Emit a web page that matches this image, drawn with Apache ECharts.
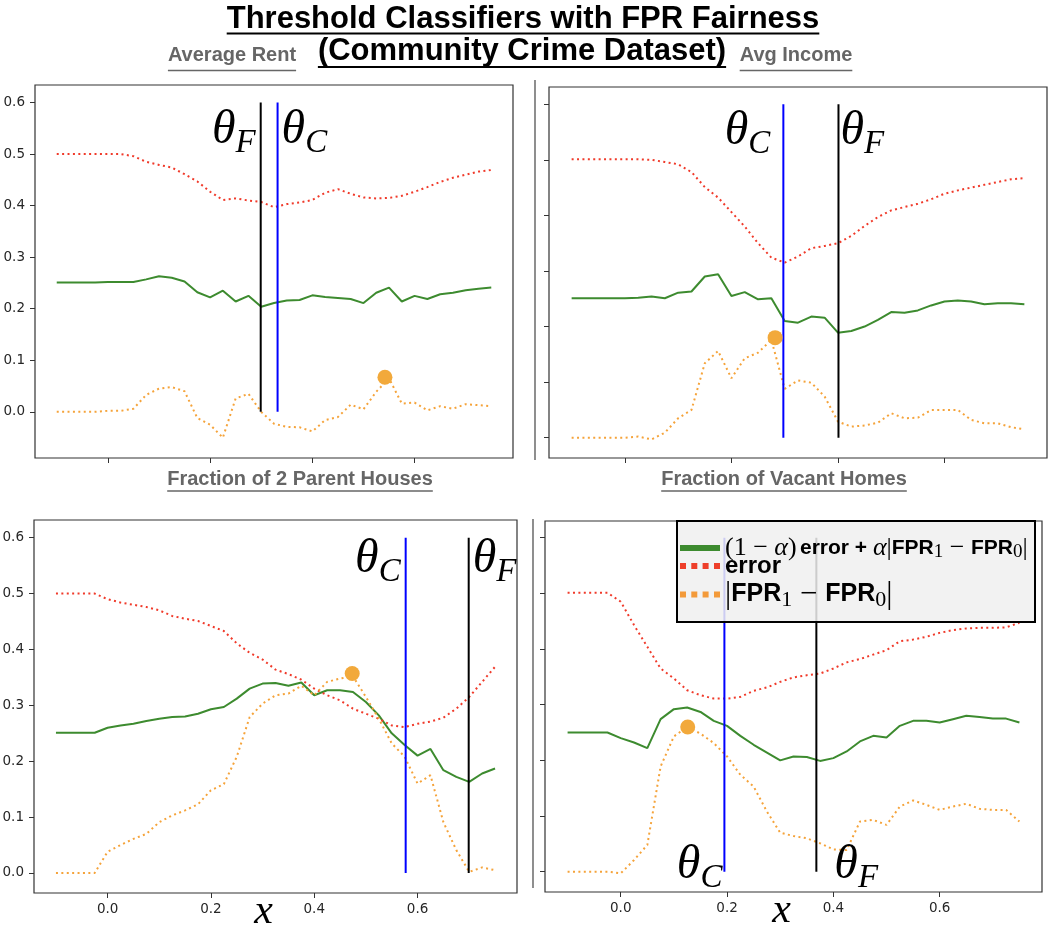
<!DOCTYPE html>
<html>
<head>
<meta charset="utf-8">
<script src="https://cdn.jsdelivr.net/npm/echarts@6/dist/echarts.min.js"></script>
<style>
  html, body { margin: 0; padding: 0; background: #fff; }
  #chart { width: 1054px; height: 928px; }
</style>
</head>
<body>
<div id="chart"></div>
<script>
// threshold grid shared by all four panels
const thresholds = [-0.1, -0.075, -0.05, -0.025, 0, 0.025, 0.05, 0.075, 0.1, 0.125, 0.15, 0.175,
  0.2, 0.225, 0.25, 0.275, 0.3, 0.325, 0.35, 0.375, 0.4, 0.425, 0.45, 0.475, 0.5, 0.525, 0.55,
  0.575, 0.6, 0.625, 0.65, 0.675, 0.7, 0.725, 0.75];
const yTicks = [0, 0.1, 0.2, 0.3, 0.4, 0.5, 0.6];
const xTicks = [0, 0.2, 0.4, 0.6];

// Average Rent
const rentError = [0.500, 0.500, 0.500, 0.500, 0.500, 0.500, 0.496, 0.485, 0.479, 0.474, 0.461, 0.447,
  0.427, 0.411, 0.414, 0.410, 0.407, 0.397, 0.403, 0.406, 0.411, 0.425, 0.432, 0.423, 0.416, 0.414,
  0.415, 0.419, 0.427, 0.436, 0.446, 0.454, 0.460, 0.466, 0.469];
const rentObjective = [0.251, 0.251, 0.251, 0.251, 0.252, 0.252, 0.252, 0.257, 0.263, 0.260, 0.253, 0.232,
  0.222, 0.235, 0.214, 0.225, 0.204, 0.211, 0.216, 0.217, 0.226, 0.223, 0.221, 0.219, 0.211, 0.231,
  0.241, 0.214, 0.225, 0.219, 0.228, 0.231, 0.236, 0.239, 0.241];
const rentGap = [0, 0, 0, 0, 0.002, 0.002, 0.006, 0.033, 0.045, 0.048, 0.040, -0.012,
  -0.025, -0.050, 0.026, 0.035, 0.000, -0.023, -0.029, -0.030, -0.038, -0.016, -0.010, 0.014, 0.005, 0.039,
  0.065, 0.016, 0.018, 0.003, 0.011, 0.006, 0.015, 0.013, 0.011];
const rentDot = [0.542, 0.067];
const rentThetaC = 0.332;
const rentThetaF = 0.299;

// Avg Income
const incomeError = [0.501, 0.501, 0.501, 0.501, 0.501, 0.501, 0.500, 0.496, 0.492, 0.478, 0.451, 0.432,
  0.406, 0.380, 0.350, 0.324, 0.315, 0.326, 0.341, 0.345, 0.350, 0.363, 0.381, 0.397, 0.409, 0.415,
  0.421, 0.429, 0.439, 0.445, 0.450, 0.455, 0.460, 0.465, 0.467];
const incomeObjective = [0.251, 0.251, 0.251, 0.251, 0.251, 0.252, 0.254, 0.251, 0.261, 0.263, 0.290, 0.294,
  0.255, 0.262, 0.249, 0.251, 0.210, 0.207, 0.218, 0.216, 0.189, 0.192, 0.200, 0.212, 0.226, 0.225,
  0.229, 0.238, 0.245, 0.247, 0.245, 0.240, 0.242, 0.242, 0.240];
const incomeGap = [0, 0, 0, 0, 0, 0.002, -0.003, 0.009, 0.035, 0.050, 0.134, 0.156,
  0.107, 0.143, 0.153, 0.176, 0.088, 0.103, 0.099, 0.074, 0.029, 0.020, 0.022, 0.027, 0.044, 0.035,
  0.036, 0.050, 0.050, 0.050, 0.032, 0.026, 0.026, 0.019, 0.015];
const incomeDot = [0.282, 0.180];
const incomeThetaC = 0.2975;
const incomeThetaF = 0.401;

// Fraction of 2 Parent Houses
const parentError = [0.500, 0.500, 0.500, 0.500, 0.490, 0.484, 0.480, 0.476, 0.470, 0.460, 0.455, 0.451,
  0.442, 0.433, 0.411, 0.394, 0.382, 0.364, 0.356, 0.346, 0.330, 0.318, 0.309, 0.294, 0.285, 0.276,
  0.264, 0.261, 0.267, 0.271, 0.278, 0.294, 0.315, 0.342, 0.369];
const parentObjective = [0.251, 0.251, 0.251, 0.251, 0.260, 0.264, 0.267, 0.272, 0.276, 0.279, 0.280, 0.285,
  0.293, 0.297, 0.312, 0.330, 0.339, 0.340, 0.335, 0.341, 0.318, 0.327, 0.327, 0.324, 0.306, 0.282,
  0.250, 0.229, 0.210, 0.222, 0.184, 0.172, 0.163, 0.178, 0.187];
const parentGap = [0, 0, 0, 0, 0.038, 0.050, 0.061, 0.070, 0.091, 0.103, 0.112, 0.123,
  0.148, 0.159, 0.208, 0.279, 0.303, 0.318, 0.321, 0.335, 0.318, 0.342, 0.348, 0.352, 0.315, 0.276,
  0.232, 0.208, 0.160, 0.175, 0.091, 0.041, 0.002, 0.010, 0.005];
const parentDot = [0.4735, 0.357];
const parentThetaC = 0.577;
const parentThetaF = 0.699;

// Fraction of Vacant Homes
const vacantError = [0.501, 0.501, 0.501, 0.501, 0.485, 0.443, 0.404, 0.365, 0.347, 0.326, 0.317, 0.311,
  0.311, 0.314, 0.325, 0.331, 0.341, 0.349, 0.353, 0.356, 0.365, 0.376, 0.382, 0.390, 0.398, 0.414,
  0.417, 0.422, 0.429, 0.434, 0.437, 0.438, 0.438, 0.439, 0.447];
const vacantObjective = [0.250, 0.250, 0.250, 0.250, 0.240, 0.232, 0.222, 0.274, 0.292, 0.295, 0.287, 0.271,
  0.262, 0.244, 0.228, 0.214, 0.200, 0.207, 0.206, 0.199, 0.204, 0.216, 0.234, 0.244, 0.241, 0.262,
  0.271, 0.271, 0.268, 0.274, 0.280, 0.278, 0.275, 0.275, 0.268];
const vacantGap = [0, 0, 0, 0, -0.003, 0.021, 0.048, 0.189, 0.243, 0.260, 0.248, 0.231,
  0.207, 0.174, 0.153, 0.108, 0.070, 0.064, 0.060, 0.051, 0.040, 0.039, 0.090, 0.093, 0.084, 0.117,
  0.128, 0.120, 0.111, 0.117, 0.122, 0.113, 0.111, 0.111, 0.090];
const vacantDot = [0.126, 0.260];
const vacantThetaC = 0.195;
const vacantThetaF = 0.368;

const OBJ = 'objective';
const ERR = 'error';
const GAP = 'gap';
const GREEN = '#3d8b2f';
const RED = '#f03a2a';
const ORANGE = '#f5a33a';

const panels = [
  { err: rentError, obj: rentObjective, gap: rentGap, dot: rentDot, thetaC: rentThetaC, thetaF: rentThetaF,
    box: { left: 35, top: 85, width: 478, height: 373 }, yRange: [-0.0895, 0.634], yLabels: true, xLabels: false,
    cLab: { at: 0.6, side: 'right', dist: 4, dy: 28 }, fLab: { at: 0.6, side: 'left', dist: 5, dy: 28 } },
  { err: incomeError, obj: incomeObjective, gap: incomeGap, dot: incomeDot, thetaC: incomeThetaC, thetaF: incomeThetaF,
    box: { left: 549, top: 87, width: 498, height: 371 }, yRange: [-0.0365, 0.631], yLabels: false, xLabels: false,
    cLab: { at: 0.6, side: 'left', dist: 13, dy: 27 }, fLab: { at: 0.6, side: 'right', dist: 2, dy: 27 } },
  { err: parentError, obj: parentObjective, gap: parentGap, dot: parentDot, thetaC: parentThetaC, thetaF: parentThetaF,
    box: { left: 34, top: 520, width: 483, height: 373 }, yRange: [-0.0358, 0.6317], yLabels: true, xLabels: true,
    cLab: { at: 0.6, side: 'left', dist: 5, dy: 22 }, fLab: { at: 0.6, side: 'right', dist: 4, dy: 22 } },
  { err: vacantError, obj: vacantObjective, gap: vacantGap, dot: vacantDot, thetaC: vacantThetaC, thetaF: vacantThetaF,
    box: { left: 545, top: 521, width: 497, height: 371 }, yRange: [-0.0365, 0.630], yLabels: false, xLabels: true,
    cLab: { at: 0, side: 'left', dist: 2, dy: -6 }, fLab: { at: 0, side: 'right', dist: 18, dy: -6 } }
];

const thetaRich = {
  t: { fontFamily: 'Liberation Serif', fontStyle: 'italic', fontSize: 48, color: '#000' },
  s: { fontFamily: 'Liberation Serif', fontStyle: 'italic', fontSize: 33, color: '#000', padding: [26, 0, 0, 0] }
};

function thetaSeries(i, x, color, sub, lab) {
  return {
    type: 'line', xAxisIndex: i, yAxisIndex: i, z: 3, silent: true,
    symbol: 'circle', symbolSize: 0, showSymbol: true,
    itemStyle: { color: 'rgba(0,0,0,0)' },
    lineStyle: { color: color, width: 2 },
    data: [0, 0.6].map(v => v !== lab.at ? { value: [x, v] } : {
      value: [x, v],
      label: { show: true, position: lab.side, distance: lab.dist, offset: [0, lab.dy],
        formatter: '{t|θ}{s|' + sub + '}', rich: thetaRich }
    })
  };
}

const grid = [], xAxis = [], yAxis = [], series = [];
const tickFont = { fontFamily: 'DejaVu Sans', fontSize: 13.5, color: '#262626' };

panels.forEach((p, i) => {
  grid.push(Object.assign({ show: true, borderColor: '#333', borderWidth: 1.2, backgroundColor: 'transparent',
    outerBoundsMode: 'none', containLabel: false }, p.box));
  xAxis.push({
    type: 'value', gridIndex: i, min: -0.1425, max: 0.7925,
    splitLine: { show: false }, axisLine: { show: false, onZero: false },
    axisTick: { show: true, length: 5, customValues: xTicks, lineStyle: { color: '#333' } },
    axisLabel: Object.assign({ show: p.xLabels, customValues: xTicks, margin: 9,
      formatter: v => v.toFixed(1) }, tickFont),
    name: p.xLabels ? 'x' : '', nameLocation: 'middle', nameGap: -2, nameMoveOverlap: false,
    nameTextStyle: { fontFamily: 'Liberation Serif', fontStyle: 'italic', fontSize: 42, color: '#000', padding: [0, 24, 0, 0] }
  });
  yAxis.push({
    type: 'value', gridIndex: i, min: p.yRange[0], max: p.yRange[1],
    splitLine: { show: false }, axisLine: { show: false, onZero: false },
    axisTick: { show: true, length: 5, customValues: yTicks, lineStyle: { color: '#333' } },
    axisLabel: Object.assign({ show: p.yLabels, customValues: yTicks, margin: 10,
      formatter: v => v.toFixed(1) }, tickFont)
  });
  const curve = (name, arr, color, type) => ({
    type: 'line', name: name, xAxisIndex: i, yAxisIndex: i, z: 2,
    symbol: 'none', showSymbol: false, silent: true,
    itemStyle: { color: color },
    lineStyle: { color: color, width: 2, type: type },
    data: thresholds.map((x, k) => [x, arr[k]])
  });
  series.push(curve(OBJ, p.obj, GREEN, 'solid'));
  series.push(curve(ERR, p.err, RED, [2, 3.4]));
  series.push(curve(GAP, p.gap, ORANGE, [2, 3.4]));
  series.push(thetaSeries(i, p.thetaC, '#0000ff', 'C', p.cLab));
  series.push(thetaSeries(i, p.thetaF, '#000000', 'F', p.fLab));
  series.push({
    type: 'scatter', xAxisIndex: i, yAxisIndex: i, z: 4, silent: true,
    symbolSize: 15, itemStyle: { color: '#f2a93b', opacity: 1 },
    data: [p.dot]
  });
});

// legend: one entry per component so each row sits where the reference has it
const ICON_SOLID = 'path://M0,0H40V6H0Z';
const ICON_DOTS = 'path://M0,0h6v6h-6zM11.3,0h6v6h-6zM22.6,0h6v6h-6zM34,0h6v6h-6z';
const serif = (size, extra) => Object.assign({ fontFamily: 'Liberation Serif', fontSize: size, color: '#000' }, extra);
const sans = (size, extra) => Object.assign({ fontFamily: 'Liberation Sans', fontWeight: 'bold', fontSize: size, color: '#000' }, extra);
const legendRows = [
  { name: OBJ, icon: ICON_SOLID, color: GREEN, top: 534,
    text: '{m|(1 − }{mi|α}{m|)} {b|error + }{mi|α}{m||}{b|FPR}{sub|1}{m| − }{b|FPR}{sub|0}{m||}',
    rich: { m: serif(26, { lineHeight: 26 }), mi: serif(26, { fontStyle: 'italic', lineHeight: 26 }),
      b: sans(21, { lineHeight: 26 }), sub: serif(19, { lineHeight: 26, padding: [9, 0, 0, 0] }) } },
  { name: ERR, icon: ICON_DOTS, color: '#ee3f2a', top: 554,
    text: '{eb|error}', rich: { eb: sans(24, { lineHeight: 26 }) } },
  { name: GAP, icon: ICON_DOTS, color: '#f39a3a', top: 578,
    text: '{m|}{m||}{b|FPR}{sub|1}{m| − }{b|FPR}{sub|0}{m||}',
    rich: { m: serif(31, { lineHeight: 30 }), b: sans(25, { lineHeight: 30 }),
      sub: serif(22, { lineHeight: 30, padding: [11, 0, 0, 0] }) } }
];
const legend = legendRows.map(r => ({
  data: [{ name: r.name, icon: r.icon, itemStyle: { color: r.color, borderWidth: 0 } }],
  orient: 'vertical', left: 680, top: r.top, z: 10, padding: 0,
  itemWidth: 40, itemHeight: 6, selectedMode: false,
  formatter: () => r.text,
  textStyle: { color: '#000', rich: r.rich }
}));

// headings: text + measured underline
function textWidth(str, font) {
  const c = document.createElement('canvas').getContext('2d');
  c.font = font;
  return c.measureText(str).width;
}
const headings = [
  { text: 'Threshold Classifiers with FPR Fairness', cx: 523, cy: 19, size: 31, color: '#000', uy: 33.5, uw: 2 },
  { text: '(Community Crime Dataset)', cx: 522, cy: 51, size: 31, color: '#000', uy: 67, uw: 2 },
  { text: 'Average Rent', cx: 232, cy: 55.5, size: 20, color: '#666', uy: 70.5, uw: 1.5 },
  { text: 'Avg Income', cx: 796, cy: 55.5, size: 20, color: '#666', uy: 70.5, uw: 1.5 },
  { text: 'Fraction of 2 Parent Houses', cx: 300, cy: 479, size: 20, color: '#666', uy: 491, uw: 1.5 },
  { text: 'Fraction of Vacant Homes', cx: 784, cy: 479, size: 20, color: '#666', uy: 491, uw: 1.5 }
];
const graphic = [];
headings.forEach(h => {
  const w = textWidth(h.text, 'bold ' + h.size + 'px "Liberation Sans"');
  graphic.push({
    type: 'text', x: h.cx, y: h.cy, silent: true,
    style: { text: h.text, fill: h.color, fontFamily: 'Liberation Sans', fontWeight: 'bold', fontSize: h.size,
      align: 'center', verticalAlign: 'middle' }
  });
  graphic.push({
    type: 'line', silent: true,
    shape: { x1: h.cx - w / 2, y1: h.uy, x2: h.cx + w / 2, y2: h.uy },
    style: { stroke: h.color, lineWidth: h.uw }
  });
});
// panel screenshot edges
graphic.push({ type: 'line', silent: true, shape: { x1: 535, y1: 80, x2: 535, y2: 460 }, style: { stroke: '#444', lineWidth: 1.2 } });
graphic.push({ type: 'line', silent: true, shape: { x1: 533, y1: 519, x2: 533, y2: 888 }, style: { stroke: '#444', lineWidth: 1.2 } });
// legend frame (semi-transparent like matplotlib's)
graphic.push({ type: 'rect', silent: true, z: 5,
  shape: { x: 677, y: 521, width: 358, height: 101 },
  style: { fill: 'rgba(240,240,240,0.85)', stroke: '#000', lineWidth: 2 } });

const chart = echarts.init(document.getElementById('chart'));
chart.setOption({
  animation: false,
  backgroundColor: '#fff',
  grid: grid,
  xAxis: xAxis,
  yAxis: yAxis,
  series: series,
  graphic: graphic,
  legend: legend
});
</script>
</body>
</html>
